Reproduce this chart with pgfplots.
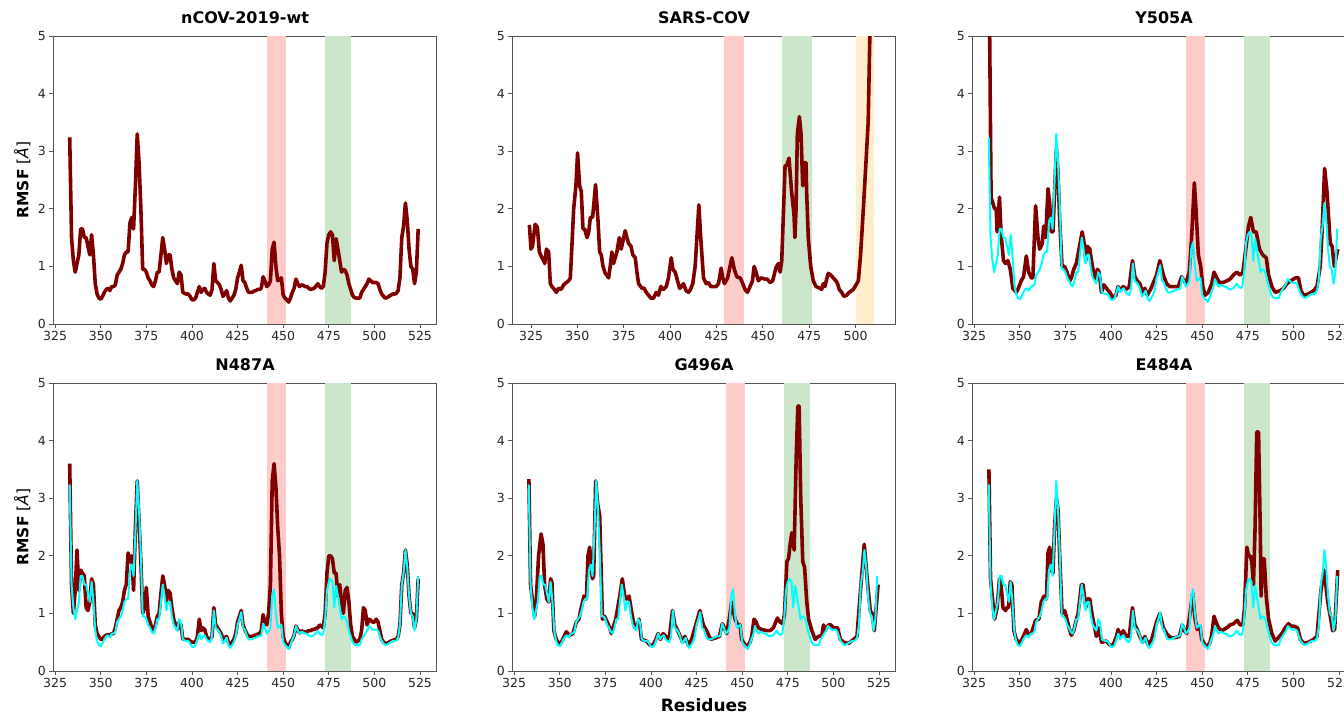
\documentclass[border=0pt]{standalone}
\usepackage{fontspec}
\setmainfont{DejaVu Sans}
\usepackage{pgfplots}
\pgfplotsset{compat=1.18}
\usepackage{pgfplotstable}

\definecolor{maroonc}{RGB}{128,0,0}
\definecolor{cyanc}{RGB}{0,255,255}
\definecolor{bandred}{RGB}{255,204,204}
\definecolor{bandgreen}{RGB}{204,230,204}
\definecolor{bandorange}{RGB}{255,237,204}
\definecolor{spine}{RGB}{85,85,85}

\pgfplotstableread{
r v
333 3.24
334 1.5
335 1.1
336 0.9
337 1.05
338 1.2
339 1.65
340 1.65
341 1.5
342 1.5
343 1.35
344 1.2
345 1.55
346 1.2
347 0.7
348 0.52
349 0.45
350 0.43
351 0.48
352 0.55
353 0.6
354 0.62
355 0.58
356 0.65
357 0.65
358 0.68
359 0.85
360 0.9
361 0.95
362 1.05
363 1.2
364 1.25
365 1.25
366 1.75
367 1.85
368 1.65
369 2.4
370 3.3
371 2.8
372 2.0
373 0.95
374 0.95
375 0.9
376 0.8
377 0.75
378 0.68
379 0.65
380 0.75
381 0.9
382 0.9
383 1.2
384 1.5
385 1.3
386 1.05
387 1.2
388 1.2
389 0.95
390 0.8
391 0.75
392 0.7
393 0.9
394 0.85
395 0.55
396 0.53
397 0.52
398 0.52
399 0.48
400 0.42
401 0.42
402 0.45
403 0.55
404 0.65
405 0.55
406 0.6
407 0.62
408 0.55
409 0.52
410 0.5
411 0.6
412 1.05
413 0.75
414 0.72
415 0.68
416 0.6
417 0.48
418 0.52
419 0.58
420 0.45
421 0.4
422 0.45
423 0.5
424 0.6
425 0.8
426 0.9
427 1.02
428 0.75
429 0.72
430 0.62
431 0.55
432 0.55
433 0.55
434 0.57
435 0.58
436 0.6
437 0.6
438 0.62
439 0.82
440 0.75
441 0.65
442 0.68
443 0.75
444 1.3
445 1.42
446 1.0
447 0.75
448 0.78
449 0.8
450 0.5
451 0.45
452 0.42
453 0.38
454 0.45
455 0.55
456 0.62
457 0.78
458 0.7
459 0.65
460 0.68
461 0.67
462 0.65
463 0.65
464 0.62
465 0.6
466 0.61
467 0.62
468 0.66
469 0.7
470 0.65
471 0.62
472 0.65
473 0.9
474 1.4
475 1.55
476 1.6
477 1.55
478 1.1
479 1.48
480 1.3
481 1.1
482 0.9
483 0.95
484 0.93
485 0.85
486 0.7
487 0.6
488 0.5
489 0.46
490 0.45
491 0.45
492 0.45
493 0.55
494 0.6
495 0.65
496 0.7
497 0.78
498 0.75
499 0.72
500 0.72
501 0.72
502 0.7
503 0.6
504 0.52
505 0.48
506 0.45
507 0.46
508 0.48
509 0.5
510 0.52
511 0.52
512 0.53
513 0.58
514 0.8
515 1.5
516 1.7
517 2.1
518 1.8
519 1.3
520 1.0
521 0.95
522 0.7
523 0.9
524 1.65
}\wt

\pgfplotstableread{
r v
324.1 1.72
325.0 1.3
325.8 1.35
327.2 1.73
328.4 1.68
329.5 1.25
330.9 1.15
331.8 1.1
332.4 1.05
333.3 1.3
334.5 1.25
335.4 0.7
336.3 0.65
337.6 0.6
338.6 0.55
339.9 0.62
341.2 0.6
342.6 0.68
344.0 0.72
345.3 0.75
346.2 0.8
348.0 2.0
349.2 2.4
350.1 2.97
351.2 2.4
352.1 2.3
353.0 1.65
353.9 1.65
355.2 1.5
356.1 1.6
357.0 1.85
358.2 1.85
359.8 2.42
361.1 1.8
362.0 1.25
362.9 1.2
363.8 1.0
365.0 0.88
365.9 0.85
366.8 0.8
367.7 1.0
368.6 1.25
369.5 1.05
370.4 1.15
371.3 1.25
372.6 1.5
373.6 1.3
375.8 1.62
376.7 1.5
377.6 1.4
378.9 1.35
379.9 1.2
381.2 1.15
382.1 0.9
383.0 0.7
384.8 0.62
386.0 0.62
387.1 0.55
388.4 0.5
389.6 0.45
391.1 0.45
392.5 0.55
393.7 0.5
395.0 0.65
396.4 0.6
397.9 0.65
399.1 0.8
400.6 1.15
401.5 0.95
402.7 0.9
403.6 0.8
405.1 0.62
406.2 0.65
407.2 0.7
408.6 0.58
409.9 0.55
411.0 0.6
412.2 0.7
413.5 1.0
415.5 2.07
416.5 1.5
418.0 0.8
419.4 0.7
420.7 0.72
421.9 0.65
423.4 0.65
424.8 0.65
426.1 0.7
427.5 0.97
428.4 0.8
429.3 0.7
431.0 0.8
433.3 1.15
434.6 0.95
436.0 0.82
437.8 0.8
439.2 0.7
440.4 0.6
441.7 0.55
443.1 0.65
444.4 0.75
445.3 1.0
446.3 0.9
447.6 0.75
448.9 0.8
451.2 0.78
452.4 0.78
453.9 0.72
455.3 0.75
457.1 0.98
458.4 1.05
459.3 0.9
460.2 1.1
462.0 2.75
462.9 2.75
464.1 2.88
465.5 2.3
466.8 1.9
467.3 1.5
467.9 2.0
468.6 3.3
469.7 3.6
470.6 3.3
471.5 2.4
472.2 2.8
473.3 2.8
473.6 2.3
474.5 1.5
475.8 1.0
477.2 0.75
478.7 0.65
480.8 0.62
481.7 0.6
482.6 0.7
483.5 0.65
484.4 0.78
485.3 0.88
486.6 0.85
488.0 0.8
489.4 0.75
490.3 0.7
491.2 0.6
492.5 0.55
493.7 0.48
495.2 0.5
496.6 0.55
498.8 0.6
500.6 0.7
501.5 0.75
502.7 1.2
504.2 2.0
505.6 2.8
506.8 3.5
507.7 5.0
509.0 6.5
510.5 8.0
512.0 9.5
}\sars

\pgfplotstableread{
r v
333.1 6.5
334.3 2.2
336.2 2.0
337.1 2.0
337.6 1.6
338.9 2.2
339.8 1.55
341.1 1.1
342.2 1.05
343.5 1.1
344.8 0.95
346.2 0.62
348.1 0.55
349.0 0.6
350.8 0.75
352.1 0.82
353.6 1.18
354.9 0.9
356.3 0.8
357.2 0.8
358.7 2.05
360.0 1.5
360.9 1.3
362.4 1.4
363.1 1.7
364.2 1.5
365.5 2.35
366.4 2.1
367.3 1.6
368.2 1.6
369.1 2.3
370.1 3.05
371.0 2.6
371.9 1.8
373.2 1.0
374.6 1.0
375.9 0.9
377.4 0.75
378.3 0.8
379.6 0.95
381.0 1.05
382.5 1.3
384.2 1.6
385.3 1.4
386.2 1.1
386.9 1.35
388.4 1.3
389.8 1.0
390.9 0.85
391.7 0.75
392.6 0.95
393.5 0.9
394.8 0.55
396.1 0.68
397.5 0.62
399.4 0.55
401.2 0.45
402.7 0.5
403.9 0.65
405.2 0.58
406.7 0.65
408.5 0.6
410.0 0.65
411.8 1.1
413.1 0.82
414.4 0.75
415.8 0.7
417.3 0.55
418.6 0.62
419.9 0.5
421.7 0.6
425.0 0.85
426.8 1.1
428.7 0.85
430.5 0.7
432.3 0.65
435.1 0.65
436.9 0.65
438.7 0.82
441.1 0.7
442.9 0.9
444.2 1.5
445.7 2.45
446.6 2.0
447.9 1.2
449.2 1.0
450.3 0.65
451.6 0.5
453.4 0.55
455.2 0.7
456.5 0.9
458.0 0.8
459.4 0.72
461.6 0.72
463.5 0.75
465.3 0.78
467.1 0.85
469.0 0.9
470.8 0.85
472.3 0.9
473.9 1.3
475.4 1.7
476.6 1.85
478.1 1.6
479.6 1.6
481.4 1.3
483.2 1.2
485.1 1.15
486.4 0.85
488.2 0.65
490.0 0.55
492.8 0.58
494.6 0.62
496.4 0.7
498.6 0.75
501.0 0.8
502.8 0.8
504.1 0.58
505.6 0.5
508.3 0.52
511.1 0.58
512.9 0.65
514.7 1.0
515.7 1.6
517.1 2.7
518.4 2.3
520.2 1.4
521.2 1.35
522.4 1.0
524.3 1.3
}\yfivezerofive

\pgfplotstableread{
r v
333 3.6
334 1.5
335 1.0
336 1.4
337 2.1
338 1.4
339 1.75
340 1.7
341 1.65
342 1.1
343 1.05
344 1.2
345 1.6
346 1.5
347 0.8
348 0.65
349 0.6
350 0.55
351 0.55
352 0.6
353 0.62
354 0.63
355 0.62
356 0.65
357 0.65
358 0.75
359 0.9
360 1.05
361 1.1
362 1.2
363 1.4
364 1.5
365 2.05
366 1.9
367 2.0
368 1.4
369 2.5
370 3.3
371 2.6
372 1.9
373 1.0
374 1.1
375 1.45
376 0.95
377 0.85
378 0.75
379 0.7
380 0.8
381 0.95
382 1.0
383 1.35
384 1.65
385 1.5
386 1.2
387 1.4
388 1.35
389 1.1
390 0.9
391 0.8
392 0.72
393 0.85
394 0.8
395 0.55
396 0.55
397 0.55
398 0.55
399 0.52
400 0.5
401 0.5
402 0.5
403 0.6
404 0.9
405 0.7
406 0.75
407 0.72
408 0.6
409 0.55
410 0.55
411 0.6
412 1.1
413 0.8
414 0.75
415 0.7
416 0.65
417 0.55
418 0.58
419 0.6
420 0.5
421 0.45
422 0.5
423 0.55
424 0.65
425 0.85
426 0.95
427 1.05
428 0.8
429 0.72
430 0.65
431 0.6
432 0.6
433 0.6
434 0.62
435 0.62
436 0.64
437 0.65
438 0.7
439 0.98
440 0.85
441 0.8
442 1.0
443 1.5
444 3.3
445 3.6
446 3.2
447 2.5
448 2.0
449 1.0
450 0.6
451 0.5
452 0.45
453 0.4
454 0.5
455 0.55
456 0.62
457 0.78
458 0.72
459 0.66
460 0.7
461 0.68
462 0.68
463 0.68
464 0.7
465 0.7
466 0.72
467 0.72
468 0.74
469 0.75
470 0.8
471 0.78
472 0.75
473 1.0
474 1.7
475 2.0
476 2.0
477 1.95
478 1.7
479 1.7
480 1.3
481 1.5
482 1.2
483 1.0
484 1.4
485 1.45
486 1.2
487 0.8
488 0.6
489 0.55
490 0.5
491 0.52
492 0.55
493 0.7
494 1.1
495 1.05
496 0.8
497 0.9
498 0.88
499 0.85
500 0.85
501 0.9
502 0.85
503 0.7
504 0.55
505 0.5
506 0.48
507 0.48
508 0.5
509 0.52
510 0.53
511 0.54
512 0.55
513 0.6
514 0.8
515 1.5
516 1.7
517 2.1
518 1.85
519 1.3
520 1.0
521 1.0
522 0.75
523 0.9
524 1.6
}\nfoureightseven

\pgfplotstableread{
r v
333.1 3.33
334.0 1.5
336.2 0.94
337.1 1.2
338.4 2.0
339.8 2.38
340.8 2.2
341.7 1.5
342.9 1.25
344.0 1.2
345.0 1.6
345.7 1.55
346.8 0.7
348.1 0.55
349.9 0.45
351.7 0.55
353.6 0.68
355.4 0.62
357.2 0.65
359.1 0.85
360.5 0.9
361.8 1.1
363.3 1.3
364.6 1.25
365.5 2.0
366.4 2.15
367.9 1.6
368.6 1.65
369.7 3.3
370.8 2.9
371.9 2.7
373.4 0.9
374.6 0.95
377.4 0.75
378.3 0.65
380.7 0.9
382.9 1.3
384.3 1.6
385.6 1.3
386.5 1.25
388.0 1.3
389.8 0.95
391.1 0.75
392.6 0.8
393.5 0.9
394.8 0.55
397.5 0.52
399.4 0.45
401.2 0.45
402.7 0.55
403.9 0.65
405.2 0.55
406.7 0.65
408.1 0.6
410.0 0.55
411.8 1.05
413.1 0.8
414.4 0.72
415.8 0.62
417.3 0.5
418.6 0.6
420.4 0.45
422.3 0.55
425.0 0.85
426.8 1.05
428.7 0.8
430.5 0.7
432.7 0.55
435.1 0.57
437.5 0.6
439.1 0.82
440.2 0.75
441.5 0.65
442.9 0.9
444.2 1.2
446.1 0.9
447.9 0.78
448.8 0.8
449.7 0.55
451.6 0.45
452.5 0.42
454.3 0.5
455.2 0.6
456.5 0.9
457.6 0.85
458.9 0.75
460.7 0.72
463.5 0.7
465.3 0.7
467.1 0.75
469.3 0.92
470.8 0.85
472.3 0.82
473.2 1.0
474.5 1.9
475.4 1.95
476.3 2.2
477.2 2.4
478.5 2.1
479.6 3.7
480.5 4.6
481.2 4.6
482.1 3.0
483.2 1.9
484.2 1.8
485.4 1.2
486.4 0.9
488.2 0.7
490.0 0.55
491.8 0.6
493.7 0.62
494.6 0.8
495.5 0.7
497.3 0.8
498.6 0.8
500.1 0.75
502.3 0.75
503.8 0.55
505.6 0.5
508.3 0.48
511.1 0.55
512.9 0.6
515.1 1.5
516.9 2.2
518.8 1.5
520.2 1.05
521.2 1.0
522.4 0.7
524.5 1.5
}\gfournine

\pgfplotstableread{
r v
333.1 3.5
334.0 1.6
336.2 0.9
337.6 1.1
338.9 1.6
339.8 1.5
340.8 1.1
342.2 1.05
342.9 1.1
343.9 1.1
344.8 1.55
345.7 1.5
346.8 0.7
348.1 0.55
349.9 0.48
351.7 0.58
353.6 0.72
354.5 0.65
356.3 0.65
358.7 0.88
360.5 0.9
361.8 1.2
363.3 1.3
364.6 1.25
365.5 2.05
366.4 2.15
367.3 1.75
368.2 1.7
369.1 2.5
370.1 3.0
371.0 2.8
371.9 2.0
373.2 1.0
374.6 1.05
375.5 0.95
377.0 0.75
378.3 0.62
379.6 0.7
380.7 0.85
382.0 1.0
383.8 1.5
384.7 1.5
386.2 1.1
387.1 1.25
388.4 1.25
389.8 0.95
391.1 0.75
392.0 0.6
393.5 0.75
394.8 0.5
397.5 0.52
399.4 0.45
401.2 0.45
403.0 0.6
403.9 0.72
405.2 0.6
406.7 0.7
408.5 0.6
410.0 0.6
411.8 1.1
413.1 0.8
414.4 0.72
415.8 0.6
417.3 0.5
418.6 0.6
420.4 0.45
422.3 0.55
425.0 0.85
426.8 1.0
428.7 0.75
430.5 0.65
432.7 0.58
435.1 0.58
437.5 0.6
439.1 0.8
440.2 0.7
441.5 0.65
442.9 0.9
444.8 1.35
446.1 0.9
447.3 0.72
448.8 0.78
449.7 0.55
451.6 0.45
452.8 0.42
454.3 0.5
455.2 0.62
456.5 0.95
457.6 0.85
458.9 0.75
460.7 0.7
463.5 0.75
465.3 0.8
467.1 0.82
469.3 0.88
470.8 0.8
472.3 0.8
473.2 1.1
474.5 2.15
475.4 2.0
476.3 2.0
477.2 1.9
478.1 1.5
479.0 2.5
479.9 4.15
480.9 4.15
481.8 2.5
482.3 1.3
483.1 1.95
484.0 1.95
485.1 1.3
486.4 0.9
488.2 0.65
490.0 0.52
491.8 0.58
493.7 0.65
495.5 0.75
497.3 0.82
498.6 0.78
500.1 0.78
502.3 0.75
503.8 0.55
505.6 0.48
508.3 0.5
511.1 0.55
512.9 0.6
515.1 1.4
516.9 1.75
518.8 1.2
520.2 0.95
521.5 0.7
522.6 0.72
524.3 1.75
}\efoureightfour

\pgfplotsset{
  rmsf/.style={
    scale only axis, width=383.5pt, height=288pt,
    anchor=south west,
    xmin=324, xmax=534.2, ymin=0, ymax=5,
    xtick={325,350,...,525}, ytick={0,1,2,3,4,5},
    axis line style={spine, line width=0.9pt},
    tick style={spine, line width=0.9pt},
    major tick length=4pt, tick align=outside,
    xtick pos=lower, ytick pos=left,
    tick label style={font=\fontsize{12.5}{14}\selectfont, text=black!85},
    /pgf/number format/assume math mode=true,
    title style={font=\fontsize{16}{19}\selectfont\bfseries, at={(axis description cs:0.5,1)}, anchor=base, yshift=7pt},
    ylabel style={font=\fontsize{15.5}{18}\selectfont, at={(axis description cs:-0.081,0.5)}, anchor=center},
    clip=true,
  },
  mut/.style={maroonc, line width=3.6pt, line join=round},
  ref/.style={cyanc, line width=2pt, line join=round},
}

\newcommand{\wtbands}{%
  \addplot[fill=bandred, draw=none, forget plot] coordinates {(441,5) (451.3,5)} \closedcycle;
  \addplot[fill=bandgreen, draw=none, forget plot] coordinates {(472.9,5) (487,5)} \closedcycle;
}

\begin{document}
\begin{tikzpicture}
\path[use as bounding box] (0,0) rectangle (1344pt,713pt);

% nCOV-2019-wt
\begin{axis}[rmsf, at={(53.3pt,389pt)}, title={nCOV-2019-wt}, ylabel={{\bfseries RMSF} [\textit{Å}]}]
\wtbands
\addplot[mut] table[x=r,y=v] {\wt};
\end{axis}

% SARS-COV
\begin{axis}[rmsf, at={(512.3pt,389pt)}, title={SARS-COV}, xmin=314.9, xmax=521.7, xtick={325,350,...,500}]
\addplot[fill=bandred, draw=none, forget plot] coordinates {(429.3,5) (439.7,5)} \closedcycle;
\addplot[fill=bandgreen, draw=none, forget plot] coordinates {(460.2,5) (476.5,5)} \closedcycle;
\addplot[fill=bandorange, draw=none, forget plot] coordinates {(500,5) (510.2,5)} \closedcycle;
\addplot[mut] table[x=r,y=v] {\sars};
\end{axis}

% Y505A
\begin{axis}[rmsf, at={(972.3pt,389pt)}, title={Y505A}]
\wtbands
\addplot[mut] table[x=r,y=v] {\yfivezerofive};
\addplot[ref] table[x=r,y=v] {\wt};
\end{axis}

% N487A
\begin{axis}[rmsf, at={(53.3pt,42pt)}, title={N487A}, ylabel={{\bfseries RMSF} [\textit{Å}]}]
\wtbands
\addplot[mut] table[x=r,y=v] {\nfoureightseven};
\addplot[ref] table[x=r,y=v] {\wt};
\end{axis}

% G496A
\begin{axis}[rmsf, at={(512.3pt,42pt)}, title={G496A}, xlabel={\bfseries Residues},
  xlabel style={font=\fontsize{17}{20}\selectfont, at={(axis description cs:0.5,0)}, anchor=base, yshift=-40pt}]
\wtbands
\addplot[mut] table[x=r,y=v] {\gfournine};
\addplot[ref] table[x=r,y=v] {\wt};
\end{axis}

% E484A
\begin{axis}[rmsf, at={(972.3pt,42pt)}, title={E484A}]
\wtbands
\addplot[mut] table[x=r,y=v] {\efoureightfour};
\addplot[ref] table[x=r,y=v] {\wt};
\end{axis}
\end{tikzpicture}
\end{document}
